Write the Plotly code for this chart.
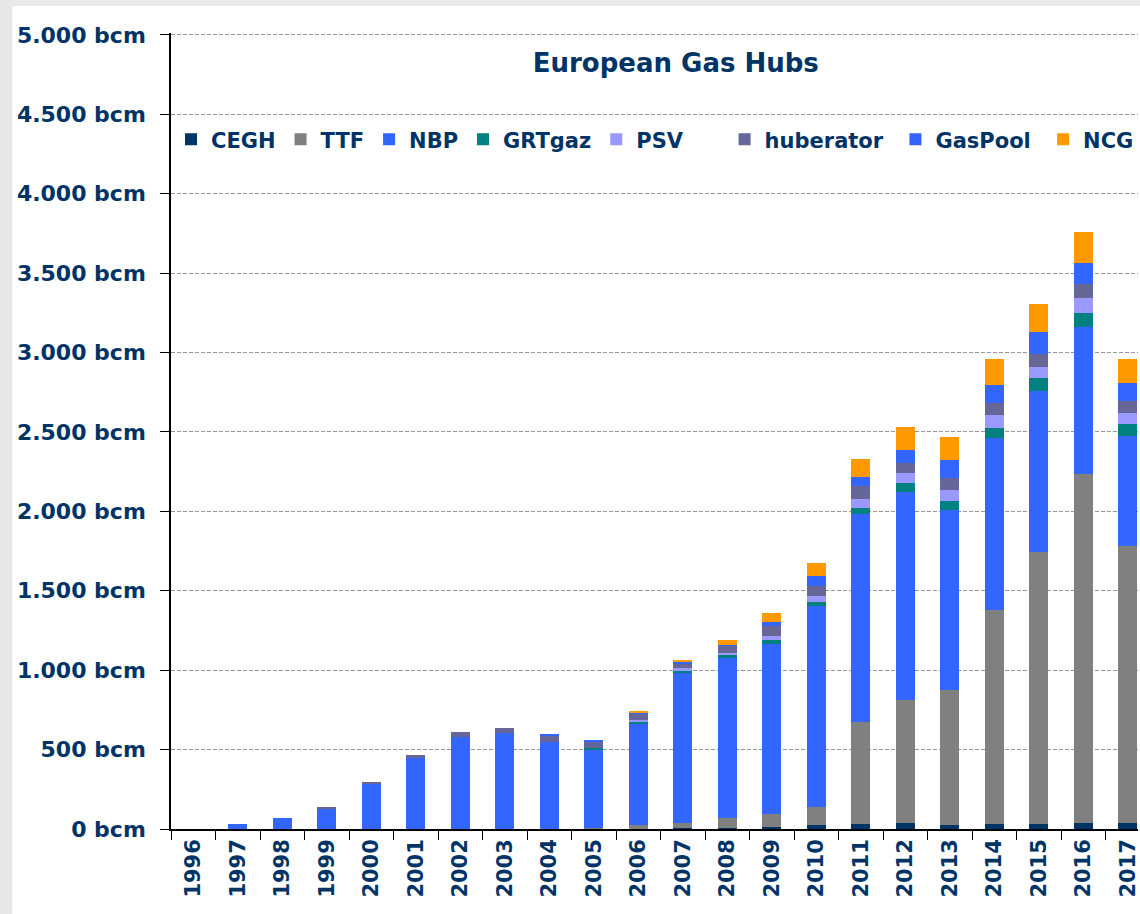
import plotly.graph_objects as go

# ==== DATA (bcm) ====
years = [str(y) for y in range(1996, 2018)]

cegh = [0, 0, 0, 0, 0, 0, 0, 0, 0, 0, 0, 8, 8, 15, 25, 31, 38, 25, 31, 31, 38, 38]
ttf = [0, 0, 0, 0, 0, 0, 0, 0, 0, 8, 25, 29, 61, 80, 113, 641, 775, 850, 1351, 1716, 2199, 1747]
nbp = [0, 32, 70, 125, 289, 453, 579, 604, 549, 495, 641, 951, 1007, 1070, 1263, 1313, 1311, 1135, 1081, 1012, 924, 691]
grtgaz = [0, 0, 0, 0, 0, 0, 0, 0, 0, 10, 8, 10, 17, 23, 31, 38, 57, 57, 63, 82, 88, 75]
psv = [0, 0, 0, 0, 0, 0, 0, 0, 0, 0, 10, 13, 13, 25, 38, 57, 63, 69, 82, 69, 94, 69]
huberator = [0, 0, 0, 13, 8, 12, 31, 31, 38, 36, 42, 29, 48, 65, 63, 77, 63, 75, 77, 82, 88, 75]
gaspool = [0, 0, 0, 0, 0, 0, 0, 0, 10, 10, 5, 15, 4, 25, 57, 61, 82, 113, 111, 138, 132, 113]
ncg = [0, 0, 0, 0, 0, 0, 0, 0, 0, 0, 10, 8, 29, 54, 88, 113, 145, 145, 163, 176, 195, 151]

hubs = ["CEGH", "TTF", "NBP", "GRTgaz", "PSV", "huberator", "GasPool", "NCG"]
values = [cegh, ttf, nbp, grtgaz, psv, huberator, gaspool, ncg]

y_ticks = [0, 500, 1000, 1500, 2000, 2500, 3000, 3500, 4000, 4500, 5000]
y_labels = ["0 bcm", "500 bcm", "1.000 bcm", "1.500 bcm", "2.000 bcm", "2.500 bcm",
            "3.000 bcm", "3.500 bcm", "4.000 bcm", "4.500 bcm", "5.000 bcm"]

# ==== COLORS ====
hub_colors = {
    "CEGH": "#003366",
    "TTF": "#808080",
    "NBP": "#3366FF",
    "GRTgaz": "#008080",
    "PSV": "#9999FF",
    "huberator": "#666699",
    "GasPool": "#3366FF",
    "NCG": "#FF9900",
}
navy = "#003366"
frame_grey = "#e8e8e8"
font_family = "DejaVu Sans"

# extra spacing after some legend entries, to spread them like the original
legend_pad = {"PSV": 5, "huberator": 1, "GasPool": 1}

fig = go.Figure()
for hub, vals in zip(hubs, values):
    label = hub + "\u00a0" * legend_pad.get(hub, 0)
    fig.add_trace(go.Bar(x=years, y=vals, name=label, marker_color=hub_colors[hub],
                         marker_line_width=0))

# thin grey frame on the left and top edges of the screenshot
frame = [
    dict(type="rect", xref="paper", yref="paper", x0=-0.18, x1=-0.1641,
         y0=-0.2, y1=1.05, fillcolor=frame_grey, line_width=0, layer="below"),
    dict(type="rect", xref="paper", yref="paper", x0=-0.18, x1=1.05,
         y0=1.034, y1=1.05, fillcolor=frame_grey, line_width=0, layer="below"),
]

fig.update_layout(
    width=1140, height=914,
    barmode="stack", bargap=0.575,
    paper_bgcolor="white", plot_bgcolor="white",
    margin=dict(l=171, r=0, t=33, b=85),
    font=dict(family=font_family, color=navy),
    title=dict(text="<b>European Gas Hubs</b>", x=0.522, xanchor="center",
               xref="paper", y=0.9316, yanchor="middle",
               font=dict(size=26, color=navy, family=font_family)),
    legend=dict(orientation="h", x=0.0, xanchor="left", y=0.866, yanchor="middle",
                font=dict(size=21, color=navy, family=font_family, weight="bold"),
                bgcolor="rgba(0,0,0,0)", traceorder="normal"),
    shapes=frame,
)

fig.update_xaxes(
    type="category", range=[-0.5, 21.23],
    showline=True, linecolor="black", linewidth=1.5,
    ticks="outside", tickson="boundaries", ticklen=9, tickcolor="black",
    tickangle=-90, showgrid=False,
    tickfont=dict(size=21, color=navy, family=font_family, weight="bold"),
)
# a bit of headroom so the 5.000 grid line is still drawn
fig.update_yaxes(
    range=[0, 5012], tickvals=y_ticks, ticktext=y_labels,
    showline=True, linecolor="black", linewidth=1.5,
    ticks="outside", ticklen=9, tickcolor="black",
    showgrid=True, gridcolor="#999999", griddash="4px,2px", gridwidth=1,
    zeroline=False, ticklabelstandoff=10,
    tickfont=dict(size=22, color=navy, family=font_family, weight="bold"),
)

fig.write_html("out.html", config={"displayModeBar": False},
               post_script="document.body.style.margin='0px';")
